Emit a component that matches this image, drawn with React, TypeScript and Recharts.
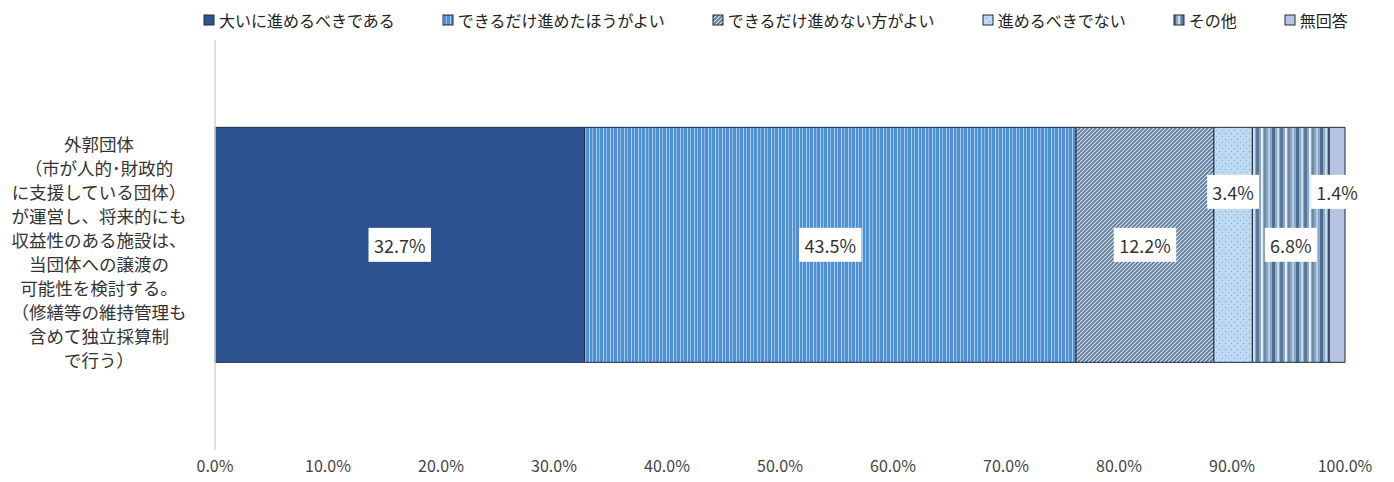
import React from 'react';
import { BarChart, Bar, XAxis, YAxis, Legend, LabelList } from 'recharts';

// ---- data ----
const categoryLines = [
  '外郭団体',
  '（市が人的･財政的',
  'に支援している団体）',
  'が運営し、将来的にも',
  '収益性のある施設は、',
  '当団体への譲渡の',
  '可能性を検討する。',
  '（修繕等の維持管理も',
  '含めて独立採算制',
  'で行う）',
];
const categories = [categoryLines.join('\n')];
const seriesNames = [
  '大いに進めるべきである',
  'できるだけ進めたほうがよい',
  'できるだけ進めない方がよい',
  '進めるべきでない',
  'その他',
  '無回答',
];
const seriesValues = [32.7, 43.5, 12.2, 3.4, 6.8, 1.4];
const xTicks = [0, 10, 20, 30, 40, 50, 60, 70, 80, 90, 100];

// ---- styles ----
const patternIds = ['pat0', 'pat1', 'pat2', 'pat3', 'pat4', 'pat5'];
const labelLift = [0, 0, 0, -53, 0, -53];
const FONT = '"Noto Sans CJK JP", "Noto Sans", sans-serif';

const data = categories.map((c) => {
  const row: Record<string, any> = { category: c };
  seriesValues.forEach((v, i) => {
    row['s' + i] = v;
  });
  return row;
});

const Patterns = () => (
  <svg width={0} height={0} style={{ position: 'absolute', left: 0, top: 0 }}>
    <defs>
      <pattern id="pat0" patternUnits="userSpaceOnUse" width={4} height={4}>
        <rect width={4} height={4} fill="#2c5290" />
      </pattern>
      <pattern id="pat1" patternUnits="userSpaceOnUse" width={7} height={6}>
        <rect width={7} height={6} fill="#5090d2" />
        <rect x={1} width={1} height={6} fill="#a8cff0" />
        <rect x={4} width={1} height={6} fill="#8cbee8" />
      </pattern>
      <pattern id="pat2" patternUnits="userSpaceOnUse" width={4} height={4}>
        <rect width={4} height={4} fill="#dde5ee" />
        <path d="M-1,1 l2,-2 M0,4 l4,-4 M3,5 l2,-2" stroke="#587898" strokeWidth={1.7} />
      </pattern>
      <pattern id="pat3" patternUnits="userSpaceOnUse" width={6} height={6}>
        <rect width={6} height={6} fill="#bcdaf2" />
        <rect x={1} y={1} width={1} height={1} fill="#7e9cbc" />
        <rect x={4} y={4} width={1} height={1} fill="#8eacc8" />
      </pattern>
      <pattern id="pat4" patternUnits="userSpaceOnUse" width={24} height={4}>
        <rect width={24} height={4} fill="#8ca8c4" />
        <rect x={0} width={3} height={4} fill="#4c6c90" />
        <rect x={5} width={2} height={4} fill="#c9dce6" />
        <rect x={8} width={3} height={4} fill="#5a7a9c" />
        <rect x={13} width={2} height={4} fill="#e4eeee" />
        <rect x={16} width={2} height={4} fill="#6a88a8" />
        <rect x={20} width={2} height={4} fill="#b4cadc" />
      </pattern>
      <pattern id="pat5" patternUnits="userSpaceOnUse" width={4} height={4}>
        <rect width={4} height={4} fill="#b7c3e3" />
      </pattern>
    </defs>
  </svg>
);

const CategoryTick = (props: any) => {
  const { y } = props;
  const n = categoryLines.length;
  return (
    <text x={99} y={y} textAnchor="middle" fontSize={17.5} fill="#333" fontFamily={FONT}>
      {categoryLines.map((l, i) => (
        <tspan key={i} x={99} y={y + 6 + (i - (n - 1) / 2) * 24} dominantBaseline="central">
          {l}
        </tspan>
      ))}
    </text>
  );
};

const makeLabel = (lift: number) => (props: any) => {
  const { x, y, width, height, value } = props;
  const cx = x + width / 2;
  const cy = y + height / 2 + lift;
  const txt = `${Number(value).toFixed(1)}%`;
  const w = txt.length * 10.5 + 10;
  const h = 34;
  return (
    <g>
      <rect x={cx - w / 2} y={cy - h / 2} width={w} height={h} fill="#ffffff" />
      <text x={cx} y={cy} textAnchor="middle" dominantBaseline="central" fontSize={18} fill="#333" fontFamily={FONT}>
        {txt}
      </text>
    </g>
  );
};

const LegendContent = () => (
  <div
    style={{
      display: 'flex',
      flexDirection: 'row',
      alignItems: 'center',
      gap: 47,
      marginLeft: 203,
      fontFamily: FONT,
      fontSize: 16,
      color: '#222',
      height: 24,
      whiteSpace: 'nowrap',
    }}
  >
    {seriesNames.map((name, i) => (
      <div key={name} style={{ display: 'flex', alignItems: 'center' }}>
        <svg width={13} height={13} style={{ marginRight: 3 }}>
          <rect x={1} y={1} width={10} height={10} fill={`url(#${patternIds[i]})`} stroke="#1c2c44" strokeWidth={1} />
        </svg>
        <span>{name}</span>
      </div>
    ))}
  </div>
);

export default function App() {
  return (
    <div style={{ position: 'absolute', left: 0, top: 0, width: 1394, height: 482, background: '#fff' }}>
      <Patterns />
      <BarChart
        width={1394}
        height={482}
        data={data}
        layout="vertical"
        margin={{ top: 16, right: 49, bottom: 0, left: 0 }}
        barCategoryGap="21.3%"
      >
        <Legend
          verticalAlign="top"
          align="left"
          content={<LegendContent />}
          wrapperStyle={{ top: 8, left: 0, width: 1394 }}
        />
        <XAxis
          type="number"
          domain={[0, 100]}
          ticks={xTicks}
          axisLine={false}
          tickLine={false}
          height={32}
          tickFormatter={(v: number) => `${v.toFixed(1)}%`}
          tick={{ fontSize: 16, fill: '#444', fontFamily: FONT, dy: 3 }}
          interval={0}
        />
        <YAxis
          type="category"
          dataKey="category"
          width={215}
          axisLine={{ stroke: '#d4d4d4', strokeWidth: 1.5 }}
          tickLine={false}
          tick={<CategoryTick />}
        />
        {seriesNames.map((name, i) => (
          <Bar
            key={name}
            dataKey={'s' + i}
            name={name}
            stackId="a"
            fill={`url(#${patternIds[i]})`}
            stroke="#1c2c44"
            strokeWidth={1}
            isAnimationActive={false}
          >
            <LabelList dataKey={'s' + i} content={makeLabel(labelLift[i])} />
          </Bar>
        ))}
      </BarChart>
    </div>
  );
}
